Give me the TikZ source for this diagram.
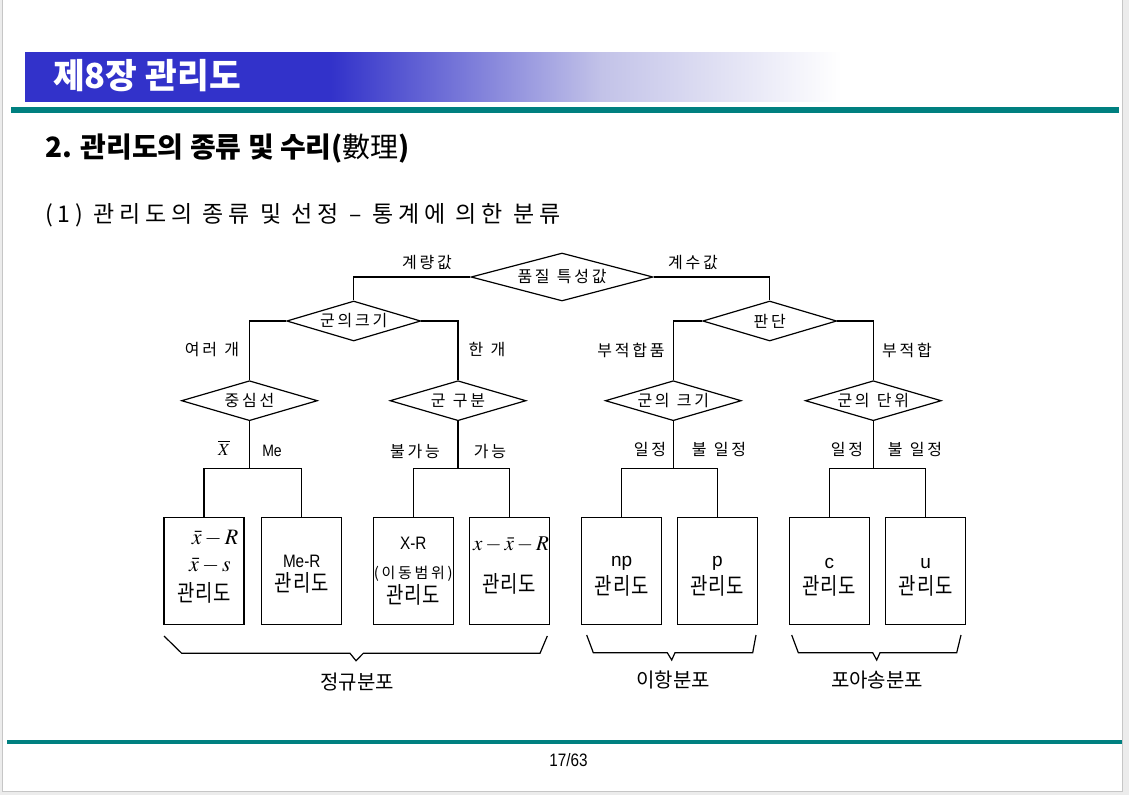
\documentclass[tikz,border=0pt]{standalone}
\usepackage{amsmath}
\usepackage{mathptmx}
\usepackage{fontspec}
\usetikzlibrary{shapes.geometric}
\setmainfont{Liberation Sans}
\newfontfamily\kr{Noto Sans CJK KR}
\newfontfamily\krl[LetterSpace=17]{Noto Sans CJK KR}
\newfontfamily\krsub[LetterSpace=21]{Noto Sans CJK KR}
\newfontfamily\krbox[LetterSpace=4,FakeStretch=0.82]{Noto Sans CJK KR}
\newfontfamily\krsm[LetterSpace=18]{Noto Sans CJK KR}
\newfontfamily\narrowsans[FakeStretch=0.85]{Liberation Sans}
\definecolor{titleblue}{RGB}{50,50,202}
\definecolor{lav}{RGB}{194,194,232}
\definecolor{tealbar}{RGB}{0,128,128}
\definecolor{pagegray}{RGB}{236,236,236}
\newcommand\ws{\hspace*{0.45em}}
\tikzset{
  dia/.style={draw, diamond, inner sep=0pt, line width=1.2pt},
  chart/.style={draw, rectangle, minimum width=80pt, minimum height=107pt, line width=1.2pt, inner sep=0pt},
  lbl/.style={font=\krl\fontsize{16}{18}\selectfont, inner sep=0pt},
  boxkr/.style={font=\krbox\fontsize{23}{26}\selectfont, inner sep=0pt},
  boxmath/.style={font=\fontsize{22}{25}\selectfont, inner sep=0pt},
  boxlat/.style={font=\fontsize{19}{22}\selectfont, inner sep=0pt},
  boxnarrow/.style={font=\narrowsans\fontsize{18}{21}\selectfont, inner sep=0pt},
  conn/.style={line width=1.2pt},
  brace/.style={line width=1.2pt, line join=miter},
  distlbl/.style={font=\kr\fontsize{20}{24}\selectfont, inner sep=0pt},
}
\begin{document}
\begin{tikzpicture}[x=1pt,y=-1pt]
\useasboundingbox (0,0) rectangle (1129,795);
% page
\fill[pagegray] (0,0) rectangle (1129,795);
\fill[white] (3,0) rectangle (1122,791);
\draw[gray!45, line width=0.8pt] (2.5,0) -- (2.5,791.5) -- (1122.5,791.5) -- (1122.5,0);
% title bar
\shade[left color=titleblue, right color=titleblue] (25,52) rectangle (332,101);
\shade[left color=titleblue, right color=lav] (331,52) rectangle (601,101);
\shade[left color=lav, right color=white] (600,52) rectangle (841,101);
\node[anchor=west, text=white, font=\kr\bfseries\fontsize{34.5}{38}\selectfont, inner sep=0pt] (title) at (53,76) {제8장 관리도};
\fill[tealbar] (11,107) rectangle (1119,113);
% headings
\node[anchor=west, font=\kr\bfseries\fontsize{28}{31}\selectfont, inner sep=0pt] (head) at (45,149) {2. 관리도의 종류 및 수리(\mdseries 數理\bfseries)};
\node[anchor=west, font=\krsub\fontsize{23}{26}\selectfont, inner sep=0pt] (sub) at (45,215) {(1)\ws 관리도의\ws 종류\ws 및\ws 선정\ws –\ws 통계에\ws 의한\ws 분류};
% diamonds
\node[dia, aspect=3.8, minimum width=182pt, minimum height=48pt] (q) at (562,277) {};
\node[lbl] at (q) {품질\ws 특성값};
\node[dia, aspect=3.35, minimum width=134pt, minimum height=40pt] (g1) at (353.7,321) {};
\node[lbl] at (g1) {군의크기};
\node[dia, aspect=3.35, minimum width=134pt, minimum height=40pt] (pd) at (769.7,321) {};
\node[lbl] at (pd) {판단};
\node[dia, aspect=3.4, minimum width=136pt, minimum height=40pt] (cs) at (249.5,400.7) {};
\node[lbl] at (cs) {중심선};
\node[dia, aspect=3.4, minimum width=136pt, minimum height=40pt] (gb) at (458,400.7) {};
\node[lbl] at (gb) {군\ws 구분};
\node[dia, aspect=3.4, minimum width=136pt, minimum height=40pt] (gk) at (673.3,400.7) {};
\node[lbl] at (gk) {군의\ws 크기};
\node[dia, aspect=3.4, minimum width=136pt, minimum height=40pt] (gd) at (873.3,400.7) {};
\node[lbl] at (gd) {군의\ws 단위};
% connectors between diamonds
\draw[conn] (q.west) -| (g1.north);
\draw[conn] (q.east) -| (pd.north);
\draw[conn] (g1.west) -| (cs.north);
\draw[conn] (g1.east) -| (gb.north);
\draw[conn] (pd.west) -| (gk.north);
\draw[conn] (pd.east) -| (gd.north);
% branch labels
\node[lbl] (l1) at (427,263) {계량값};
\node[lbl] (l2) at (693,263) {계수값};
\node[lbl] (l3) at (212,350) {여러\ws 개};
\node[lbl] (l4) at (487,350) {한\ws 개};
\node[lbl] (l5) at (631,350) {부적합품};
\node[lbl] (l6) at (907,350) {부적합};
\node[inner sep=0pt, font=\fontsize{17}{19}\selectfont] (l7) at (224,448) {$\overline{X}$};
\node[inner sep=0pt, font=\narrowsans\fontsize{16.5}{18}\selectfont] (l8) at (272,451) {Me};
\node[lbl] (l9) at (415,451) {불가능};
\node[lbl] (l10) at (490,451) {가능};
\node[lbl] (l11) at (650,449.5) {일정};
\node[lbl] (l12) at (719,449.5) {불\ws 일정};
\node[lbl] (l13) at (847,449.5) {일정};
\node[lbl] (l14) at (915,449.5) {불\ws 일정};
% boxes
\node[chart] (b1) at (204,570.7) {};
\node[chart] (b2) at (301.7,570.7) {};
\node[chart] (b3) at (413.3,570.7) {};
\node[chart] (b4) at (509.3,570.7) {};
\node[chart] (b5) at (621.7,570.7) {};
\node[chart] (b6) at (717.3,570.7) {};
\node[chart] (b7) at (829.3,570.7) {};
\node[chart] (b8) at (925.7,570.7) {};
% box texts
\node[boxmath] (t1a) at (215,538) {$\bar{x}-R$};
\node[boxmath] (t1b) at (210,566) {$\bar{x}-s$};
\node[boxkr] (t1c) at (204,593) {관리도};
\node[boxnarrow] (t2a) at (301.7,561.7) {Me-R};
\node[boxkr] (t2b) at (301.7,583.3) {관리도};
\node[boxnarrow] (t3a) at (413.3,543.3) {X-R};
\node[inner sep=0pt, font=\krsm\fontsize{15}{18}\selectfont] (t3b) at (413.3,573.3) {(이동범위)};
\node[boxkr] (t3c) at (413.3,595) {관리도};
\node[inner sep=0pt, font=\fontsize{21}{24}\selectfont] (t4a) at (511,545) {$x-\bar{x}-R$};
\node[boxkr] (t4b) at (509.3,584) {관리도};
\node[boxlat] (t5a) at (621.7,563.3) {np};
\node[boxkr] (t5b) at (621.7,586) {관리도};
\node[boxlat] (t6a) at (717.3,563.3) {p};
\node[boxkr] (t6b) at (717.3,586) {관리도};
\node[boxlat] (t7a) at (829.3,563.3) {c};
\node[boxkr] (t7b) at (829.3,586) {관리도};
\node[boxlat] (t8a) at (925.7,563.3) {u};
\node[boxkr] (t8b) at (925.7,586) {관리도};
% junctions
\coordinate (j1) at (249.5,468.7);
\coordinate (j2) at (458,468.7);
\coordinate (j3) at (673.3,468.7);
\coordinate (j4) at (873.3,468.7);
\draw[conn] (cs.south) -- (j1);
\draw[conn] (b1.north) |- (j1) -| (b2.north);
\draw[conn] (gb.south) -- (j2);
\draw[conn] (b3.north) |- (j2) -| (b4.north);
\draw[conn] (gk.south) -- (j3);
\draw[conn] (b5.north) |- (j3) -| (b6.north);
\draw[conn] (gd.south) -- (j4);
\draw[conn] (b7.north) |- (j4) -| (b8.north);
% braces
\draw[brace] (164,636) -- (181.7,653.3) -- (350,653.3) -- (356,660.7) -- (363.3,653.3) -- (540,653.3) -- (547.3,636);
\draw[brace] (586.7,635) -- (593.3,652.7) -- (667.3,652.7) -- (671.7,660) -- (675,652.7) -- (752.7,652.7) -- (756,635);
\draw[brace] (791.7,635) -- (798.3,652.7) -- (872.7,652.7) -- (876.7,660) -- (880,652.7) -- (956.7,652.7) -- (961,635);
\node[distlbl] (d1) at (357,681.5) {정규분포};
\node[distlbl] (d2) at (673.3,680) {이항분포};
\node[distlbl] (d3) at (877,680) {포아송분포};
% footer
\fill[tealbar] (7,740) rectangle (1122,743.5);
\node[inner sep=0pt, font=\narrowsans\fontsize{18}{20}\selectfont] (pg) at (568.5,760) {17/63};
\end{tikzpicture}
\end{document}
